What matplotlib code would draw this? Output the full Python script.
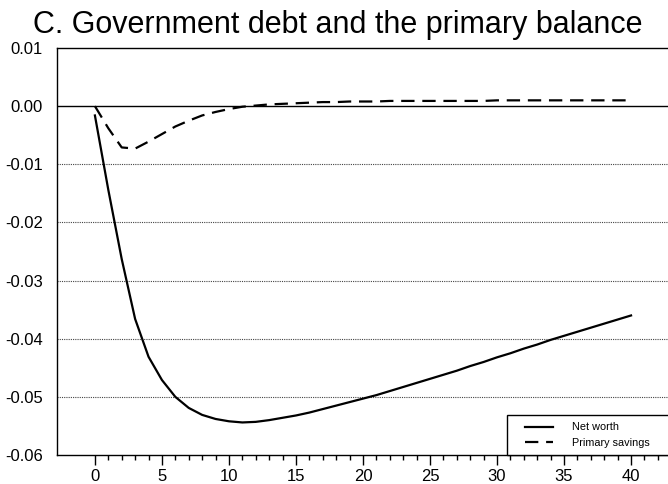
import matplotlib
matplotlib.use("Agg")
import matplotlib.pyplot as plt
from matplotlib.ticker import FixedLocator
from matplotlib.patches import Rectangle

plt.rcParams['font.family'] = ['Liberation Sans', 'DejaVu Sans']

# Impulse responses by year after the shock
years = list(range(0, 41))
net_worth = [
    -0.0016, -0.0144, -0.0263, -0.0366, -0.0431, -0.0471, -0.0500, -0.0519,
    -0.0531, -0.0538, -0.0542, -0.0544, -0.0543, -0.0540, -0.0536, -0.0532,
    -0.0527, -0.0521, -0.0515, -0.0509, -0.0503, -0.0497, -0.0490, -0.0483,
    -0.0476, -0.0469, -0.0462, -0.0455, -0.0447, -0.0440, -0.0432, -0.0425,
    -0.0417, -0.0410, -0.0402, -0.0395, -0.0388, -0.0381, -0.0374, -0.0367,
    -0.0360,
]
primary_savings = [
    0.0000, -0.0038, -0.0071, -0.0073, -0.0061, -0.0048, -0.0035, -0.0025,
    -0.0016, -0.0010, -0.0005, -0.0001, 0.0001, 0.0003, 0.0004, 0.0005,
    0.0006, 0.0007, 0.0007, 0.0008, 0.0008, 0.0008, 0.0009, 0.0009,
    0.0009, 0.0009, 0.0009, 0.0009, 0.0009, 0.0009, 0.0010, 0.0010,
    0.0010, 0.0010, 0.0010, 0.0010, 0.0010, 0.0010, 0.0010, 0.0010,
    0.0010,
]
series_labels = ["Net worth", "Primary savings"]
title = "C. Government debt and the primary balance"
y_ticks = [0.01, 0.00, -0.01, -0.02, -0.03, -0.04, -0.05, -0.06]
x_ticks = [0, 5, 10, 15, 20, 25, 30, 35, 40]

fig = plt.figure(figsize=(6.68, 4.84), dpi=100)
ax = fig.add_axes([0.0849, 0.0599, 0.926, 0.8409])

ax.set_xlim(-2.85, 43.3)
ax.set_ylim(-0.06, 0.01)

# Horizontal reference lines
for yv in y_ticks:
    if yv == 0.0:
        ax.axhline(yv, color='black', lw=1.0, zorder=1)
    elif -0.06 < yv < 0.01:
        ax.axhline(yv, color='#444444', lw=0.8, ls=(0, (1, 1)), zorder=1)

ax.plot(years, net_worth, color='black', lw=1.6, label=series_labels[0], zorder=3)
ax.plot(years, primary_savings, color='black', lw=1.6, ls=(0, (6, 3.5)),
        label=series_labels[1], zorder=3)

ax.set_yticks(y_ticks)
ax.set_yticklabels([f"{v:.2f}" for v in y_ticks])
ax.xaxis.set_major_locator(FixedLocator(x_ticks))
ax.xaxis.set_minor_locator(FixedLocator([v for v in range(0, 44) if v % 5]))
ax.tick_params(axis='y', length=0, pad=10, labelsize=12)
ax.tick_params(axis='x', which='major', direction='out', length=7, width=1,
               pad=3, labelsize=12)
ax.tick_params(axis='x', which='minor', direction='out', length=3.5, width=1)

for side in ['left', 'bottom', 'top', 'right']:
    ax.spines[side].set_linewidth(1.0)
    ax.spines[side].set_color('black')

# Legend box anchored to the lower right corner, running off the right edge
ax.add_patch(Rectangle((0.7285, 0.0), 0.4, 0.098, transform=ax.transAxes,
                       facecolor='white', edgecolor='black', lw=1.0,
                       zorder=4, clip_on=False))
leg = ax.legend(loc='center left', bbox_to_anchor=(0.757, 0.049),
                fontsize=7.8, frameon=False, borderpad=0, handlelength=2.6,
                handletextpad=1.7, labelspacing=0.5, borderaxespad=0)
leg.set_zorder(5)

fig.text(0.505, 1 - 33.5 / 484, title, ha='center', va='baseline', fontsize=22)

fig.savefig("out.png", dpi=100)
